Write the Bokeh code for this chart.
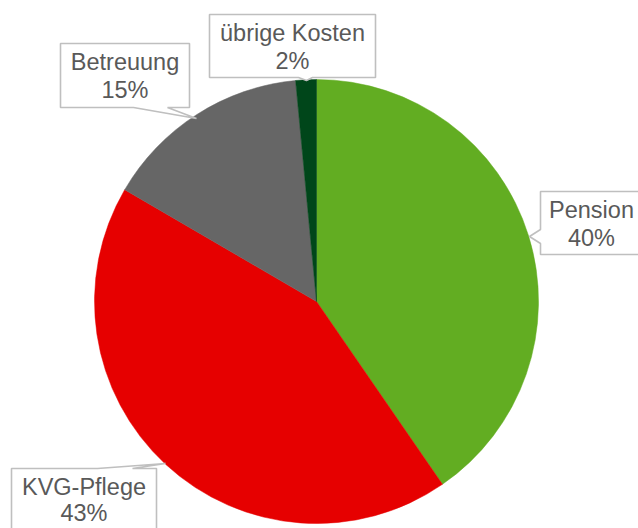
import numpy as np
from bokeh.plotting import figure
from bokeh.models import ColumnDataSource, Range1d
from bokeh.core.properties import value
from bokeh.embed import file_html
from bokeh.resources import INLINE

# ---- data ----
categories = ["Pension", "KVG-Pflege", "Betreuung", "übrige Kosten"]
shares = [40.4, 43.0, 15.1, 1.5]
colors = ["#62AD22", "#E60000", "#666666", "#00461A"]

# ---- layout (screen pixels in the picture) ----
CX, CY, R = 316, 301, 222
W, H = 638, 528
TXT_SHIFT = 8.5   # compensates the renderer's baseline placement

def sx(x):
    return x

def sy(y):
    return -y

total = float(sum(shares))
frac = np.array(shares) / total
cum = np.concatenate([[0.0], np.cumsum(frac)])
start = np.pi / 2 - 2 * np.pi * cum[:-1]
end = np.pi / 2 - 2 * np.pi * cum[1:]
pct = [f"{f * 100:.0f}%" for f in frac]

p = figure(width=W, height=H, output_backend="svg", toolbar_location=None,
           x_range=Range1d(0, W), y_range=Range1d(-H, 0),
           x_axis_location=None, y_axis_location=None, min_border=0)
p.grid.visible = False
p.outline_line_color = None
p.background_fill_color = "white"
p.border_fill_color = "white"

src = ColumnDataSource(dict(start=start, end=end, color=colors, cat=categories))
p.wedge(x=sx(CX), y=sy(CY), radius=R, start_angle="start", end_angle="end",
        direction="clock", fill_color="color", line_color="color", line_width=0.5,
        source=src)

# callout boxes (layout): box = (x0, y0, x1, y1), pointer vertices
callouts = {
    "Pension": dict(box=(540, 191, 646, 254), side="left", base=(243, 229), tip=(529, 236)),
    "KVG-Pflege": dict(box=(11, 468, 156, 536), side="top", base=(97, 132), tip=(165, 463)),
    "Betreuung": dict(box=(60, 43, 189, 107), side="bottom", base=(167, 133), tip=(196, 118)),
    "übrige Kosten": dict(box=(209, 14, 375, 77), side="bottom", base=(312, 298), tip=(306, 80)),
}

xs, ys = [], []
lx, ly1, ly2 = [], [], []
for cat in categories:
    c = callouts[cat]
    x0, y0, x1, y1 = c["box"]
    b1, b2 = c["base"]
    tx, ty = c["tip"]
    if c["side"] == "left":
        pts = [(x0, y0), (x1, y0), (x1, y1), (x0, y1), (x0, b1), (tx, ty), (x0, b2)]
    elif c["side"] == "top":
        pts = [(x0, y0), (b1, y0), (tx, ty), (b2, y0), (x1, y0), (x1, y1), (x0, y1)]
    else:  # bottom
        pts = [(x0, y0), (x1, y0), (x1, y1), (b1, y1), (tx, ty), (b2, y1), (x0, y1)]
    xs.append([sx(px) for px, py in pts])
    ys.append([sy(py) for px, py in pts])
    cx = (x0 + x1) / 2
    if cat == "Pension":
        cx = 591
    lx.append(sx(cx))
    ly1.append(sy(y0 + 26.5 - TXT_SHIFT))
    ly2.append(sy(min(y0 + 54.5, H - 7) - TXT_SHIFT))

p.patches(xs=xs, ys=ys, fill_color="white", line_color="#BFBFBF", line_width=1.6)

tsrc = ColumnDataSource(dict(x=lx, y1=ly1, y2=ly2, cat=categories, pct=pct))
for ycol, tcol in (("y1", "cat"), ("y2", "pct")):
    p.text(x="x", y=ycol, text=tcol, source=tsrc, text_align="center",
           text_baseline="alphabetic", text_font=value("Liberation Sans"),
           text_font_size="23.5px", text_color="#595959")

open("out.html", "w").write(file_html(p, INLINE))
